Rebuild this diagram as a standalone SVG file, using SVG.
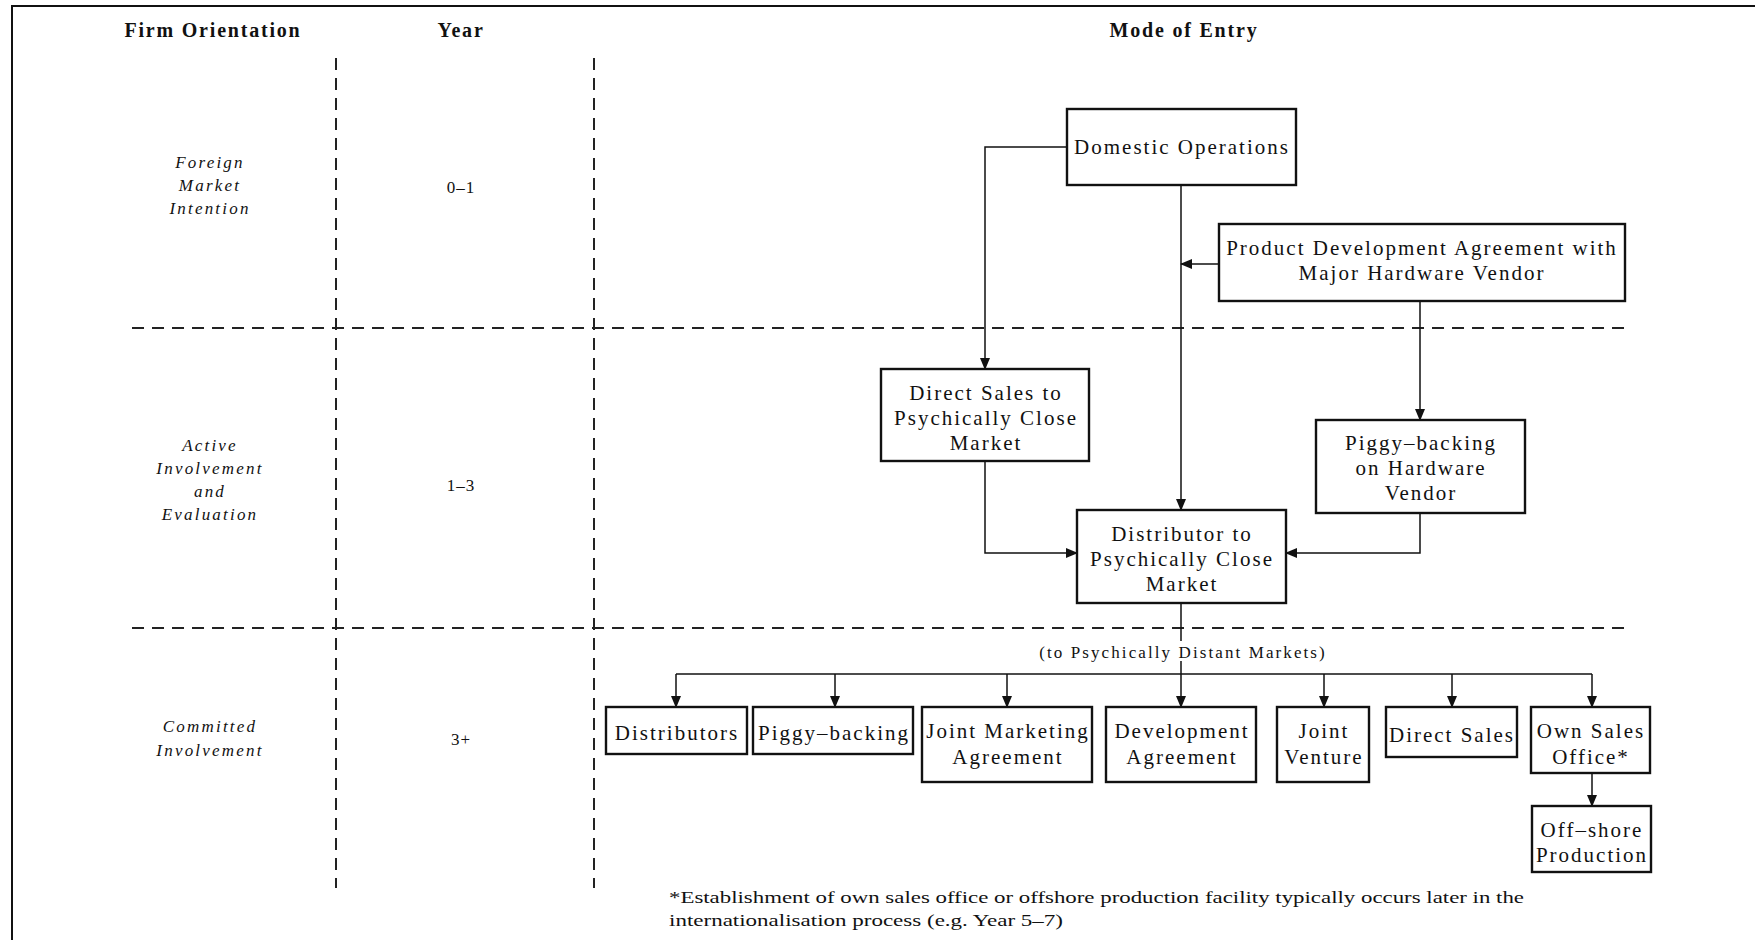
<svg xmlns="http://www.w3.org/2000/svg" width="1755" height="942" viewBox="0 0 1755 942">
<defs>
<marker id="arr" markerWidth="12" markerHeight="10" refX="11" refY="5" orient="auto" markerUnits="userSpaceOnUse">
<path d="M0,0 L12,5 L0,10 Z" fill="#111"/>
</marker>
<style>
.box{fill:#fff;stroke:#111;stroke-width:2.4}
.t{font-family:"Liberation Serif","Times New Roman",serif;font-size:21px;letter-spacing:2px;fill:#111;text-anchor:middle}
.h{font-family:"Liberation Serif","Times New Roman",serif;font-size:20px;font-weight:bold;letter-spacing:1.8px;fill:#111;text-anchor:middle}
.it{font-family:"Liberation Serif","Times New Roman",serif;font-size:17px;font-style:italic;letter-spacing:2.2px;fill:#111;text-anchor:middle}
.yr{font-family:"Liberation Serif","Times New Roman",serif;font-size:17px;letter-spacing:1px;fill:#111;text-anchor:middle}
.s{font-family:"Liberation Serif","Times New Roman",serif;font-size:17px;letter-spacing:2.1px;fill:#111;text-anchor:middle}
.fn{font-family:"Liberation Serif","Times New Roman",serif;font-size:17px;fill:#111}
.c{fill:none;stroke:#111;stroke-width:1.5}
.d{fill:none;stroke:#222;stroke-width:2;stroke-dasharray:12 8}
.frame{fill:none;stroke:#111;stroke-width:2}
</style>
</defs>
<rect width="1755" height="942" fill="#fff"/>
<g id="frame">
<path class="frame" d="M12,940 V6 H1755"/>
</g>
<g id="grid">
<line class="d" x1="336" y1="58" x2="336" y2="888"/>
<line class="d" x1="594" y1="58" x2="594" y2="888"/>
<line class="d" x1="132" y1="328" x2="1631" y2="328"/>
<line class="d" x1="132" y1="628" x2="1631" y2="628"/>
</g>
<g id="headers">
<text class="h" x="213" y="37">Firm Orientation</text>
<text class="h" x="461" y="37">Year</text>
<text class="h" x="1184" y="37">Mode of Entry</text>
</g>
<g id="stages">
<text class="it" x="210" y="168">Foreign</text>
<text class="it" x="210" y="191">Market</text>
<text class="it" x="210" y="214">Intention</text>
<text class="yr" x="461" y="193">0–1</text>
<text class="it" x="210" y="451">Active</text>
<text class="it" x="210" y="474">Involvement</text>
<text class="it" x="210" y="497">and</text>
<text class="it" x="210" y="520">Evaluation</text>
<text class="yr" x="461" y="491">1–3</text>
<text class="it" x="210" y="732">Committed</text>
<text class="it" x="210" y="756">Involvement</text>
<text class="yr" x="461" y="745">3+</text>
</g>
<g id="connectors">
<path class="c" d="M1067,147 H985 V369" marker-end="url(#arr)"/>
<path class="c" d="M1181,185 V510" marker-end="url(#arr)"/>
<path class="c" d="M1219,264 H1181" marker-end="url(#arr)"/>
<path class="c" d="M1420,301 V420" marker-end="url(#arr)"/>
<path class="c" d="M985,461 V553 H1077" marker-end="url(#arr)"/>
<path class="c" d="M1420,513 V553 H1286" marker-end="url(#arr)"/>
<path class="c" d="M1181,603 V641 M1181,661 V674"/>
<path class="c" d="M676,674 H1592"/>
<path class="c" d="M676,674 V707" marker-end="url(#arr)"/>
<path class="c" d="M835,674 V707" marker-end="url(#arr)"/>
<path class="c" d="M1007,674 V707" marker-end="url(#arr)"/>
<path class="c" d="M1181,674 V707" marker-end="url(#arr)"/>
<path class="c" d="M1324,674 V707" marker-end="url(#arr)"/>
<path class="c" d="M1452,674 V707" marker-end="url(#arr)"/>
<path class="c" d="M1592,674 V707" marker-end="url(#arr)"/>
<path class="c" d="M1592,773 V806" marker-end="url(#arr)"/>
</g>
<text class="s" x="1183" y="658">(to Psychically Distant Markets)</text>
<g id="domestic">
<rect class="box" x="1067" y="109" width="229" height="76"/>
<text class="t" x="1182" y="154">Domestic Operations</text>
</g>
<g id="productdev">
<rect class="box" x="1219" y="224" width="406" height="77"/>
<text class="t" x="1422" y="255">Product Development Agreement with</text>
<text class="t" x="1422" y="280">Major Hardware Vendor</text>
</g>
<g id="directsales">
<rect class="box" x="881" y="369" width="208" height="92"/>
<text class="t" x="986" y="400">Direct Sales to</text>
<text class="t" x="986" y="425">Psychically Close</text>
<text class="t" x="986" y="450">Market</text>
</g>
<g id="piggyhw">
<rect class="box" x="1316" y="420" width="209" height="93"/>
<text class="t" x="1421" y="450">Piggy–backing</text>
<text class="t" x="1421" y="475">on Hardware</text>
<text class="t" x="1421" y="500">Vendor</text>
</g>
<g id="distributor">
<rect class="box" x="1077" y="510" width="209" height="93"/>
<text class="t" x="1182" y="541">Distributor to</text>
<text class="t" x="1182" y="566">Psychically Close</text>
<text class="t" x="1182" y="591">Market</text>
</g>
<g id="distributors">
<rect class="box" x="606" y="707" width="141" height="47"/>
<text class="t" x="677" y="740">Distributors</text>
</g>
<g id="piggybacking">
<rect class="box" x="753" y="707" width="160" height="47"/>
<text class="t" x="834" y="740">Piggy–backing</text>
</g>
<g id="jointmarketing">
<rect class="box" x="922" y="707" width="170" height="75"/>
<text class="t" x="1008" y="738">Joint Marketing</text>
<text class="t" x="1008" y="764">Agreement</text>
</g>
<g id="development">
<rect class="box" x="1106" y="707" width="150" height="75"/>
<text class="t" x="1182" y="738">Development</text>
<text class="t" x="1182" y="764">Agreement</text>
</g>
<g id="jointventure">
<rect class="box" x="1277" y="707" width="92" height="75"/>
<text class="t" x="1324" y="738">Joint</text>
<text class="t" x="1324" y="764">Venture</text>
</g>
<g id="directsales2">
<rect class="box" x="1386" y="707" width="131" height="50"/>
<text class="t" x="1452" y="742">Direct Sales</text>
</g>
<g id="ownsales">
<rect class="box" x="1531" y="707" width="119" height="66"/>
<text class="t" x="1591" y="738">Own Sales</text>
<text class="t" x="1591" y="764">Office*</text>
</g>
<g id="offshore">
<rect class="box" x="1532" y="806" width="119" height="66"/>
<text class="t" x="1592" y="837">Off–shore</text>
<text class="t" x="1592" y="862">Production</text>
</g>
<g id="footnote">
<text class="fn" x="669" y="903" textLength="855" lengthAdjust="spacingAndGlyphs">*Establishment of own sales office or offshore production facility typically occurs later in the</text>
<text class="fn" x="669" y="926" textLength="394" lengthAdjust="spacingAndGlyphs">internationalisation process (e.g. Year 5–7)</text>
</g>
</svg>
